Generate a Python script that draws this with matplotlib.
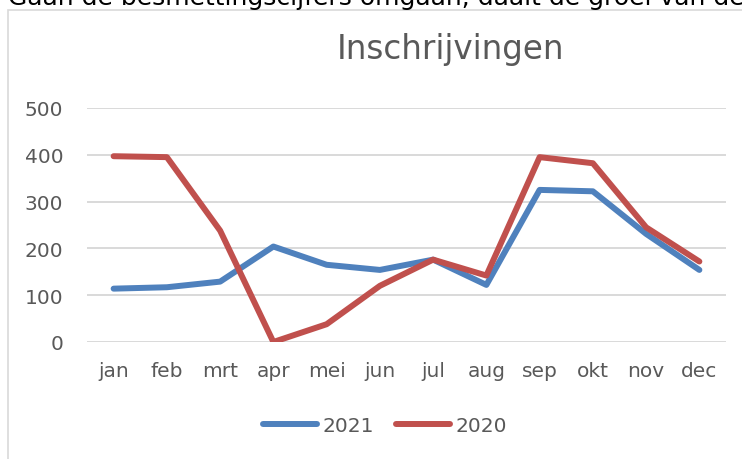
# Inschrijvingen per maand, 2021 vs 2020
import matplotlib
matplotlib.use("Agg")
import matplotlib.pyplot as plt
from matplotlib.patches import Rectangle

months = ["jan", "feb", "mrt", "apr", "mei", "jun",
          "jul", "aug", "sep", "okt", "nov", "dec"]
y2021 = [114, 117, 129, 204, 165, 154, 176, 122, 325, 322, 231, 154]
y2020 = [397, 395, 238, 0, 38, 120, 176, 142, 395, 382, 245, 172]
yticks = [0, 100, 200, 300, 400, 500]

blue = "#4F81BD"
red = "#C0504D"
grey = "#595959"

plt.rcParams["font.family"] = ["DejaVu Sans"]

fig = plt.figure(figsize=(7.42, 4.6), dpi=100)
ax = fig.add_axes([87 / 742, 1 - 343 / 460, 639 / 742, 234 / 460])

# chart frame (runs off the right and bottom edge)
fig.patches.append(Rectangle((8 / 742, -0.2), 1.2, 1.2 - 11 / 460,
                             transform=fig.transFigure, fill=False,
                             edgecolor="#D9D9D9", linewidth=1.2))

# cut-off sentence above the chart
fig.text(8 / 742, 1 - 4.5 / 460,
         "Gaan de besmettingscijfers omgaan, daalt de groei van de",
         fontsize=18, color="black", va="baseline", ha="left")

x = range(len(months))
ax.plot(x, y2021, color=blue, linewidth=4.3, solid_capstyle="round",
        solid_joinstyle="round", label="2021", zorder=3)
ax.plot(x, y2020, color=red, linewidth=4.3, solid_capstyle="round",
        solid_joinstyle="round", label="2020", zorder=3)

ax.set_xlim(-0.5, len(months) - 0.5)
ax.set_ylim(0, 500)
ax.set_xticks(list(x))
ax.set_xticklabels(months)
ax.set_yticks(yticks)
ax.tick_params(axis="both", length=0, labelsize=14.5, labelcolor=grey)
ax.tick_params(axis="y", pad=17)
ax.tick_params(axis="x", pad=14)

ax.grid(axis="y", color="#D9D9D9", linewidth=1.4)
ax.set_axisbelow(True)
for s in ax.spines.values():
    s.set_visible(False)
ax.set_clip_on(False)

fig.text(450 / 742, 1 - 50 / 460, "Inschrijvingen", fontsize=23.5,
         color=grey, ha="center", va="center")

fig.legend(loc="center", bbox_to_anchor=(385 / 742, 1 - 427 / 460),
           ncol=2, frameon=False, fontsize=14.5, handlelength=2.7,
           handletextpad=0.25, columnspacing=1.1, labelcolor=grey)

fig.savefig("out.png", dpi=100)
